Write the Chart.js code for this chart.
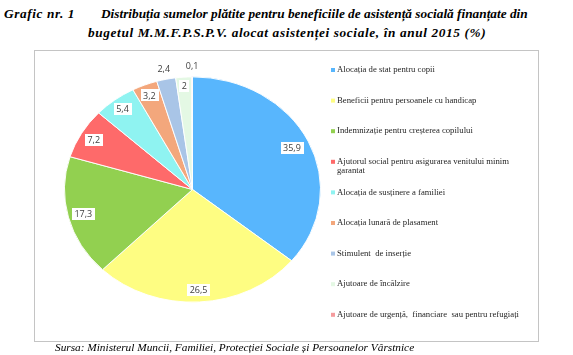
<!DOCTYPE html>
<html>
<head>
<meta charset="utf-8">
<script src="https://cdn.jsdelivr.net/npm/chart.js@4.4.1/dist/chart.umd.min.js"></script>
<style>
  html, body { margin: 0; padding: 0; background: #fff; }
  body { width: 573px; height: 355px; position: relative; overflow: hidden; }
  .t { position: absolute; font-family: "Liberation Serif", "DejaVu Serif", serif; font-weight: bold; font-style: italic; font-size: 13.3px; color: #000; white-space: nowrap; line-height: 15px; }
  #frame { position: absolute; left: 34px; top: 50px; width: 503px; height: 290px; border: 1px solid #c4c4c4; }
  #src { position: absolute; left: 55px; top: 341px; font-family: "Liberation Serif", serif; font-style: italic; font-size: 11.3px; color: #000; white-space: nowrap; line-height: 13px; }
  canvas { position: absolute; left: 0; top: 0; }
</style>
</head>
<body>
<div class="t" style="left:4px; top:6px; letter-spacing:0.6px;">Grafic nr. 1</div>
<div class="t" style="left:101px; top:6px;">Distribuția sumelor plătite pentru beneficiile de asistență socială finanțate din</div>
<div class="t" style="left:88px; top:25px; letter-spacing:0.62px;">bugetul M.M.F.P.S.P.V. alocat asistenței sociale, în anul 2015 (%)</div>
<div id="frame"></div>
<canvas id="c" width="573" height="355"></canvas>
<div id="src">Sursa: Ministerul Muncii, Familiei, Protecției Sociale și Persoanelor Vârstnice</div>
<script>
const categories = [
  "Alocația de stat pentru copii",
  "Beneficii pentru persoanele cu handicap",
  "Indemnizație pentru creșterea copilului",
  "Ajutorul social pentru asigurarea venitului minim garantat",
  "Alocația de susținere a familiei",
  "Alocația lunară de plasament",
  "Stimulent  de inserție",
  "Ajutoare de încălzire",
  "Ajutoare de urgență,  financiare  sau pentru refugiați"
];
const values = [35.9, 26.5, 17.3, 7.2, 5.4, 3.2, 2.4, 2, 0.1];
const colors = ["#58b6fd", "#fefd82", "#92d050", "#fe6a6a", "#8ff3f1", "#f3a77c", "#a9c5e7", "#e4f8e4", "#f59c9e"];

const SY = 0.88; // vertical squash of the pie (elliptical look)
const labelFrac = [0.86, 0.89, 0.88, 0.89, 0.9, 0.9, 1.09, 0.92, 1.1];

const squash = {
  id: 'squash',
  beforeDatasetsDraw(chart) {
    const arc = chart.getDatasetMeta(0).data[0];
    const ctx = chart.ctx;
    ctx.save();
    ctx.translate(0, arc.y);
    ctx.scale(1, SY);
    ctx.translate(0, -arc.y);
  },
  afterDatasetsDraw(chart) {
    chart.ctx.restore();
  }
};

const labelsPlugin = {
  id: 'valueLabels',
  afterDraw(chart) {
    const ctx = chart.ctx;
    const meta = chart.getDatasetMeta(0);
    ctx.save();
    ctx.font = '9px "Open Sans", sans-serif';
    ctx.textAlign = 'center';
    ctx.textBaseline = 'middle';
    meta.data.forEach((arc, i) => {
      const p = arc.getProps(['x', 'y', 'startAngle', 'endAngle', 'outerRadius'], true);
      const mid = (p.startAngle + p.endAngle) / 2;
      const r = p.outerRadius * labelFrac[i];
      const x = p.x + Math.cos(mid) * r;
      const y = p.y + Math.sin(mid) * r * SY;
      const txt = String(values[i]).replace('.', ',');
      const w = ctx.measureText(txt).width + 5;
      const h = 12;
      ctx.fillStyle = '#ffffff';
      ctx.fillRect(Math.round(x - w / 2), Math.round(y - h / 2), Math.round(w), h);
      ctx.fillStyle = '#404040';
      ctx.fillText(txt, x, y + 0.5);
    });
    ctx.restore();
  }
};

const legendPlugin = {
  id: 'sideLegend',
  afterDraw(chart) {
    const ctx = chart.ctx;
    const x0 = 331, y0 = 70, step = 30.6, maxW = 197, lh = 8.5;
    ctx.save();
    ctx.font = '8.7px "Liberation Serif", serif';
    ctx.textBaseline = 'middle';
    ctx.textAlign = 'left';
    chart.data.labels.forEach((lab, i) => {
      const y = y0 + i * step;
      ctx.fillStyle = chart.data.datasets[0].backgroundColor[i];
      ctx.fillRect(x0, y - 2, 4, 4);
      const words = lab.split(' ');
      const lines = [];
      let cur = '';
      words.forEach(wd => {
        const test = cur === '' ? wd : cur + ' ' + wd;
        if (ctx.measureText(test).width > maxW && cur !== '') { lines.push(cur); cur = wd; }
        else cur = test;
      });
      lines.push(cur);
      ctx.fillStyle = '#262626';
      lines.forEach((ln, k) => ctx.fillText(ln, x0 + 6, y + k * lh));
    });
    ctx.restore();
  }
};

new Chart(document.getElementById('c'), {
  type: 'pie',
  data: {
    labels: categories,
    datasets: [{
      data: values,
      backgroundColor: colors,
      borderColor: '#ffffff',
      borderWidth: 1,
      hoverOffset: 0
    }]
  },
  options: {
    responsive: false,
    animation: false,
    devicePixelRatio: 1,
    layout: { padding: { left: 64, right: 252, top: 61, bottom: 37 } },
    plugins: {
      legend: { display: false },
      tooltip: { enabled: false },
      title: { display: false }
    }
  },
  plugins: [squash, labelsPlugin, legendPlugin]
});
</script>
</body>
</html>
